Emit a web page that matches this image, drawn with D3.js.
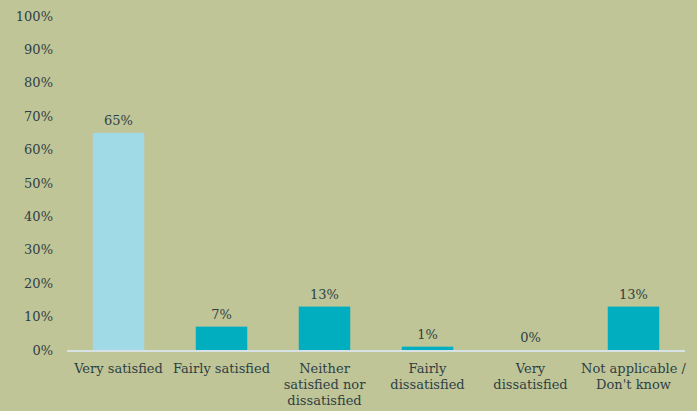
<!DOCTYPE html>
<html><head><meta charset="utf-8">
<script src="https://cdn.jsdelivr.net/npm/d3@7"></script>
<style>
html,body{margin:0;padding:0;background:#C0C597;}
svg{display:block;font-family:"DejaVu Serif","Liberation Serif",serif;}
</style></head>
<body>
<svg id="chart" width="697" height="411"></svg>
<script>
const categories = ["Very satisfied","Fairly satisfied","Neither satisfied nor dissatisfied","Fairly dissatisfied","Very dissatisfied","Not applicable / Don't know"];
const categoryLines = [["Very satisfied"],["Fairly satisfied"],["Neither","satisfied nor","dissatisfied"],["Fairly","dissatisfied"],["Very","dissatisfied"],["Not applicable /","Don't know"]];
const values = [65,7,13,1,0,13];
const barColors = ["#A0DAE6","#00AEC0","#00AEC0","#00AEC0","#00AEC0","#00AEC0"];
const yTicks = [0,10,20,30,40,50,60,70,80,90,100];

const svg = d3.select("#chart");
svg.append("rect").attr("width",697).attr("height",411).attr("fill","#C0C597");
const x = d3.scaleBand().domain(categories).range([67,685]).paddingInner(0.5).paddingOuter(0.25);
const y = d3.scaleLinear().domain([0,100]).range([350,16]);
const textColor = "#2E3F45";

const yAxis = d3.axisLeft(y).tickValues(yTicks).tickFormat(d=>d+"%").tickSize(0).tickPadding(0);
const ya = svg.append("g").attr("transform","translate(53,0)").call(yAxis);
ya.select(".domain").remove();
ya.selectAll("text").attr("fill",textColor).style("font-size","13px").attr("font-family","DejaVu Serif, serif");

svg.selectAll("rect.bar").data(values).join("rect").attr("class","bar")
  .attr("x",(d,i)=>x(categories[i])).attr("width",x.bandwidth())
  .attr("y",d=>y(d)).attr("height",d=>y(0)-y(d))
  .attr("fill",(d,i)=>barColors[i]);

svg.append("line").attr("x1",67).attr("x2",685).attr("y1",y(0)+1).attr("y2",y(0)+1)
  .attr("stroke","#D6E2E6").attr("stroke-width",2);

svg.selectAll("text.val").data(values).join("text").attr("class","val")
  .attr("x",(d,i)=>x(categories[i])+x.bandwidth()/2).attr("y",d=>y(d)-8)
  .attr("text-anchor","middle").attr("fill",textColor).style("font-size","13px")
  .text(d=>d+"%");

const xa = svg.append("g");
categories.forEach((c,i)=>{
  const t = xa.append("text").attr("x",x(c)+x.bandwidth()/2).attr("y",373)
    .attr("text-anchor","middle").attr("fill",textColor).style("font-size","13px");
  categoryLines[i].forEach((l,j)=>{
    t.append("tspan").attr("x",x(c)+x.bandwidth()/2).attr("dy",j===0?0:16).text(l);
  });
});
</script>
</body></html>
